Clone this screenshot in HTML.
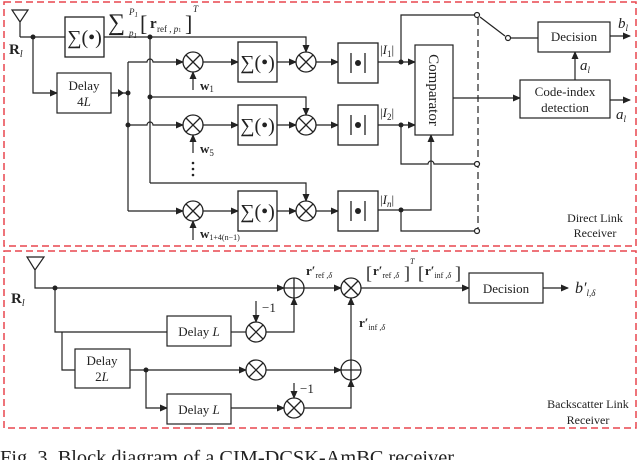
<!DOCTYPE html>
<html><head><meta charset="utf-8"><style>
html,body{margin:0;padding:0;background:#fff;}
svg{display:block;}
text{font-family:"Liberation Serif",serif;fill:#222;}
</style></head><body>
<svg width="640" height="460" viewBox="0 0 640 460" xmlns="http://www.w3.org/2000/svg">
<defs>
<marker id="a" markerWidth="8" markerHeight="8" refX="7" refY="4" orient="auto" markerUnits="userSpaceOnUse"><path d="M0,0.5 L8,4 L0,7.5 Z" fill="#222"/></marker>
<g id="mul"><circle r="10" fill="#fff" stroke="#222" stroke-width="1.3"/><path d="M-7,-7L7,7M-7,7L7,-7" stroke="#222" stroke-width="1.3"/></g>
<g id="add"><circle r="10" fill="#fff" stroke="#222" stroke-width="1.3"/><path d="M-10,0H10M0,-10V10" stroke="#222" stroke-width="1.3"/></g>
<g id="sum"><rect x="0" y="0" width="39" height="40" fill="#fff" stroke="#222" stroke-width="1.3"/><text x="19.5" y="27" font-size="20" text-anchor="middle">∑(•)</text></g>
<g id="abs"><rect x="0" y="0" width="40" height="40" fill="#fff" stroke="#222" stroke-width="1.3"/><path d="M13,10V30M27,10V30" stroke="#222" stroke-width="1.3"/><circle cx="20" cy="20" r="3" fill="#222"/></g>
</defs>
<g fill="none" stroke="#e8474f" stroke-width="1.5" stroke-dasharray="7,4">
<rect x="4" y="2" width="632" height="244"/>
<rect x="4" y="251" width="632" height="177"/>
</g>
<g stroke="#222" stroke-width="1.2" fill="none">
<path d="M12,10H28L20,22Z M20,22V37 M20,37H65 M103,37H306V52" marker-end="url(#a)"/>
<path d="M33,37V93H57" marker-end="url(#a)"/>
<path d="M111,93H128"/>
<path d="M150,37V183"/>
<path d="M128,62V211"/>
<path d="M128,62H147 a3,3 0 0 1 6,0 H183" marker-end="url(#a)"/>
<path d="M128,125H147 a3,3 0 0 1 6,0 H183" marker-end="url(#a)"/>
<path d="M128,211H183" marker-end="url(#a)"/>
<path d="M150,97H306V115" marker-end="url(#a)"/>
<path d="M150,183H306V201" marker-end="url(#a)"/>
<path d="M203,62H238" marker-end="url(#a)"/><path d="M277,62H296" marker-end="url(#a)"/><path d="M316,62H338" marker-end="url(#a)"/>
<path d="M203,125H238" marker-end="url(#a)"/><path d="M277,125H296" marker-end="url(#a)"/><path d="M316,125H338" marker-end="url(#a)"/>
<path d="M203,211H238" marker-end="url(#a)"/><path d="M277,211H296" marker-end="url(#a)"/><path d="M316,211H338" marker-end="url(#a)"/>
<path d="M193,90V72" marker-end="url(#a)"/><path d="M193,153V135" marker-end="url(#a)"/><path d="M193,240V221" marker-end="url(#a)"/>
<path d="M378,62H415" marker-end="url(#a)"/><path d="M378,125H415" marker-end="url(#a)"/>
<path d="M378,210H431V135" marker-end="url(#a)"/>
<path d="M401,62V15H474"/>
<path d="M401,125V164H428 a3,3 0 0 1 6,0 H474"/>
<path d="M401,210V231H474"/>
<path d="M453,98H520" marker-end="url(#a)"/>
<path d="M480,17L505,36"/>
<path d="M511,38H538"/>
<path d="M575,80V52" marker-end="url(#a)"/>
<path d="M610,36H630" marker-end="url(#a)"/>
<path d="M610,100H630" marker-end="url(#a)"/>
<path d="M478,18V230" stroke-dasharray="7,4"/>
<path d="M27,257H44L35,270Z M35,270V288H284" marker-end="url(#a)"/>
<path d="M55,288V332H167"/>
<path d="M62,332V370H75"/>
<path d="M231,332H246"/>
<path d="M266,332H294V298" marker-end="url(#a)"/>
<path d="M256,301V322" marker-end="url(#a)"/>
<path d="M304,288H341" marker-end="url(#a)"/>
<path d="M361,288H469" marker-end="url(#a)"/>
<path d="M543,288H568" marker-end="url(#a)"/>
<path d="M130,370H246" marker-end="url(#a)"/>
<path d="M266,370H341" marker-end="url(#a)"/>
<path d="M146,370V408H167" marker-end="url(#a)"/>
<path d="M231,408H284" marker-end="url(#a)"/>
<path d="M304,408H351V380" marker-end="url(#a)"/>
<path d="M294,383V398" marker-end="url(#a)"/>
<path d="M351,360V298" marker-end="url(#a)"/>
</g>
<g stroke="#222" stroke-width="1.2" fill="#fff">
<rect x="57" y="73" width="54" height="40"/>
<rect x="415" y="45" width="38" height="90"/>
<rect x="538" y="22" width="72" height="30"/>
<rect x="520" y="80" width="90" height="38"/>
<rect x="167" y="316" width="64" height="30"/>
<rect x="75" y="349" width="55" height="39"/>
<rect x="167" y="394" width="64" height="30"/>
<rect x="469" y="273" width="74" height="30"/>
<circle cx="477" cy="15" r="2.5"/><circle cx="508" cy="38" r="2.5"/>
<circle cx="477" cy="164" r="2.5"/><circle cx="477" cy="231" r="2.5"/>
</g>
<g fill="#222">
<circle cx="33" cy="37" r="2.5"/><circle cx="150" cy="37" r="2.5"/><circle cx="128" cy="93" r="2.5"/>
<circle cx="150" cy="97" r="2.5"/><circle cx="128" cy="125" r="2.5"/>
<circle cx="401" cy="62" r="2.5"/><circle cx="401" cy="125" r="2.5"/><circle cx="401" cy="210" r="2.5"/>
<circle cx="55" cy="288" r="2.5"/><circle cx="146" cy="370" r="2.5"/>
<circle cx="193" cy="163" r="1.3"/><circle cx="193" cy="169" r="1.3"/><circle cx="193" cy="175" r="1.3"/>
<path d="M118,89L124,93L118,97Z"/>
</g>
<use href="#sum" x="65" y="17"/>
<use href="#sum" x="238" y="42"/><use href="#sum" x="238" y="105"/><use href="#sum" x="238" y="191"/>
<use href="#abs" x="338" y="43"/><use href="#abs" x="338" y="105"/><use href="#abs" x="338" y="191"/>
<use href="#mul" x="193" y="62"/><use href="#mul" x="306" y="62"/>
<use href="#mul" x="193" y="125"/><use href="#mul" x="306" y="125"/>
<use href="#mul" x="193" y="211"/><use href="#mul" x="306" y="211"/>
<use href="#add" x="294" y="288"/><use href="#mul" x="351" y="288"/>
<use href="#mul" x="256" y="332"/><use href="#mul" x="256" y="370"/>
<use href="#add" x="351" y="370"/><use href="#mul" x="294" y="408"/>
<g font-size="13">
<text x="9" y="54" font-size="15" font-weight="bold">R<tspan font-size="10" font-style="italic" font-weight="normal" dy="3">l</tspan></text>
<text x="84" y="90" text-anchor="middle">Delay</text><text x="84" y="106" text-anchor="middle" font-style="italic"><tspan font-style="normal">4</tspan>L</text>
<text x="108" y="30" font-size="24">∑</text>
<text x="129" y="15" font-size="9" font-style="italic">P<tspan font-size="7" dy="2">1</tspan></text>
<text x="129" y="36" font-size="9" font-style="italic">p<tspan font-size="7" dy="2">1</tspan></text>
<text x="140" y="31" font-size="22" fill="#888">[</text>
<text x="150" y="28" font-size="15" font-weight="bold">r</text>
<text x="157" y="32" font-size="9">ref , <tspan font-style="italic">p</tspan><tspan font-size="6">1</tspan></text>
<text x="185" y="31" font-size="22" fill="#888">]</text>
<text x="193" y="12" font-size="9" font-style="italic">T</text>
<text x="200" y="90" font-weight="bold">w<tspan font-size="9" font-weight="normal" dy="2">1</tspan></text>
<text x="200" y="153" font-weight="bold">w<tspan font-size="9" font-weight="normal" dy="3">5</tspan></text>
<text x="200" y="238" font-weight="bold">w<tspan font-size="8" font-weight="normal" dy="2">1+4(n−1)</tspan></text>
<text x="380" y="54">|<tspan font-style="italic">I</tspan><tspan font-size="9" dy="3">1</tspan><tspan dy="-3">|</tspan></text>
<text x="380" y="117">|<tspan font-style="italic">I</tspan><tspan font-size="9" dy="3">2</tspan><tspan dy="-3">|</tspan></text>
<text x="380" y="204">|<tspan font-style="italic">I</tspan><tspan font-size="9" dy="3" font-style="italic">n</tspan><tspan dy="-3">|</tspan></text>
<text transform="translate(429,90) rotate(90)" text-anchor="middle" font-size="15">Comparator</text>
<text x="574" y="41" text-anchor="middle">Decision</text>
<text x="565" y="96" text-anchor="middle">Code-index</text>
<text x="565" y="112" text-anchor="middle">detection</text>
<text x="618" y="28" font-size="15" font-style="italic">b<tspan font-size="9" dy="3">l</tspan></text>
<text x="580" y="70" font-size="15" font-style="italic">a<tspan font-size="9" dy="3">l</tspan></text>
<text x="616" y="119" font-size="15" font-style="italic">a<tspan font-size="9" dy="3">l</tspan></text>
<text x="595" y="222" text-anchor="middle" font-size="12">Direct Link</text>
<text x="595" y="237" text-anchor="middle" font-size="12">Receiver</text>
<text x="11" y="303" font-size="15" font-weight="bold">R<tspan font-size="10" font-style="italic" font-weight="normal" dy="3">l</tspan></text>
<text x="199" y="336" text-anchor="middle">Delay <tspan font-style="italic">L</tspan></text>
<text x="102" y="365" text-anchor="middle">Delay</text>
<text x="102" y="381" text-anchor="middle"><tspan>2</tspan><tspan font-style="italic">L</tspan></text>
<text x="199" y="414" text-anchor="middle">Delay <tspan font-style="italic">L</tspan></text>
<text x="262" y="312">−1</text>
<text x="300" y="393">−1</text>
<text x="306" y="275" font-weight="bold">r′<tspan font-size="8" font-weight="normal" dy="3">ref ,<tspan font-style="italic">δ</tspan></tspan></text>
<text x="359" y="327" font-weight="bold">r′<tspan font-size="8" font-weight="normal" dy="3">inf ,<tspan font-style="italic">δ</tspan></tspan></text>
<text x="366" y="279" fill="#888" font-size="18">[</text>
<text x="373" y="275" font-weight="bold">r′<tspan font-size="8" font-weight="normal" dy="3">ref ,<tspan font-style="italic">δ</tspan></tspan></text>
<text x="404" y="279" fill="#888" font-size="18">]</text>
<text x="410" y="264" font-size="8" font-style="italic">T</text>
<text x="418" y="279" fill="#888" font-size="18">[</text>
<text x="425" y="275" font-weight="bold">r′<tspan font-size="8" font-weight="normal" dy="3">inf ,<tspan font-style="italic">δ</tspan></tspan></text>
<text x="455" y="279" fill="#888" font-size="18">]</text>
<text x="506" y="293" text-anchor="middle">Decision</text>
<text x="575" y="293" font-size="16" font-style="italic">b′<tspan font-size="9" dy="3">l,δ</tspan></text>
<text x="588" y="408" text-anchor="middle" font-size="12">Backscatter Link</text>
<text x="588" y="424" text-anchor="middle" font-size="12">Receiver</text>
</g>
<text x="0" y="464" font-size="20" textLength="458" lengthAdjust="spacingAndGlyphs">Fig. 3.  Block diagram of a CIM-DCSK-AmBC receiver.</text>
</svg>
</body></html>
